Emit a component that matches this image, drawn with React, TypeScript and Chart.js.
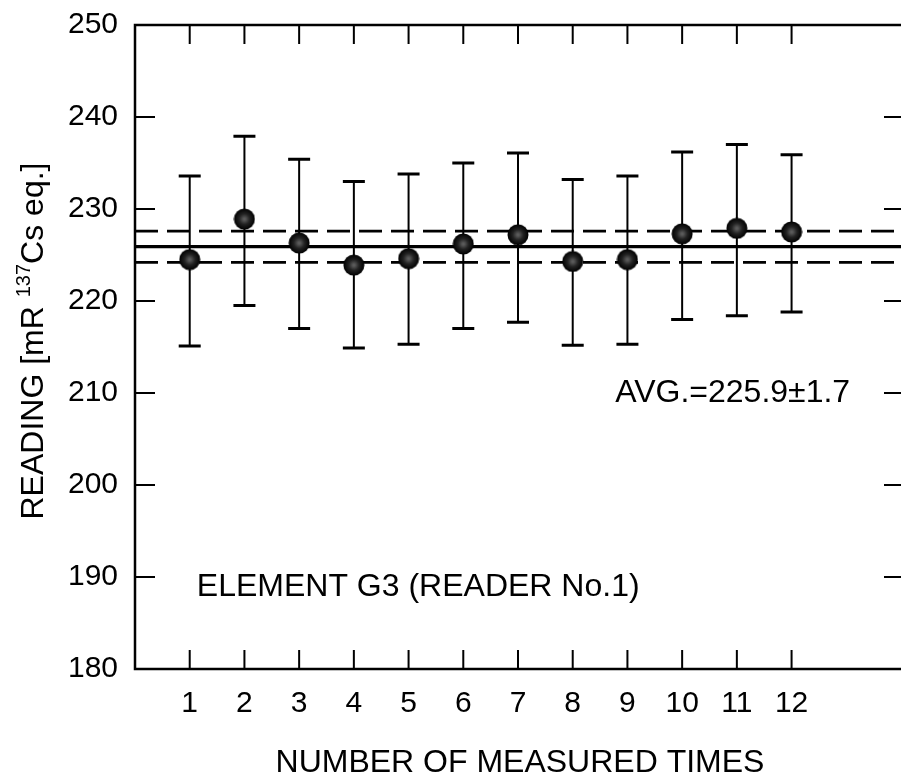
import React, { useEffect, useRef } from "react";
import { Chart, registerables } from "chart.js";

Chart.register(...registerables);

const runs = [1, 2, 3, 4, 5, 6, 7, 8, 9, 10, 11, 12];
const readings = [224.5, 228.9, 226.3, 223.9, 224.6, 226.2, 227.2, 224.3, 224.5, 227.3, 227.9, 227.5];
const upperErr = [233.6, 237.9, 235.4, 233.0, 233.8, 235.0, 236.1, 233.2, 233.6, 236.2, 237.0, 235.9];
const lowerErr = [215.1, 219.5, 217.0, 214.9, 215.3, 217.0, 217.7, 215.2, 215.3, 218.0, 218.4, 218.8];
const avgValue = 225.9;
const avgSd = 1.7;
const xTicks = [1, 2, 3, 4, 5, 6, 7, 8, 9, 10, 11, 12];
const yTickLabels = [180, 190, 200, 210, 220, 230, 240, 250];
const xRange = [0, 14];
const yRange = [180, 250];
const avgLabel = "AVG.=225.9±1.7";
const elementLabel = "ELEMENT G3 (READER No.1)";
const xTitle = "NUMBER OF MEASURED TIMES";
const yTitleParts = ["READING [mR ", "137", "Cs eq.]"];

const FONT = '"Liberation Sans", Arial, Helvetica, sans-serif';

const framePlugin = {
  id: "frame",
  beforeDatasetsDraw(chart: any) {
    const ctx = chart.ctx;
    const xs = chart.scales.x;
    const ys = chart.scales.y;
    ctx.save();
    ctx.strokeStyle = "#000";
    // error bars
    for (let i = 0; i < runs.length; i++) {
      const px = xs.getPixelForValue(runs[i]);
      const pt = ys.getPixelForValue(upperErr[i]);
      const pb = ys.getPixelForValue(lowerErr[i]);
      ctx.lineWidth = 2;
      ctx.beginPath();
      ctx.moveTo(px, pt);
      ctx.lineTo(px, pb);
      ctx.stroke();
      ctx.lineWidth = 3;
      ctx.beginPath();
      ctx.moveTo(px - 11, pt);
      ctx.lineTo(px + 11, pt);
      ctx.moveTo(px - 11, pb);
      ctx.lineTo(px + 11, pb);
      ctx.stroke();
    }
    ctx.restore();
  },
  afterDraw(chart: any) {
    const ctx = chart.ctx;
    const xs = chart.scales.x;
    const ys = chart.scales.y;
    const a = chart.chartArea;
    ctx.save();
    ctx.strokeStyle = "#000";
    ctx.fillStyle = "#000";
    // frame (left, top, bottom)
    ctx.lineWidth = 2.5;
    ctx.beginPath();
    ctx.moveTo(a.right + 2, a.top);
    ctx.lineTo(a.left, a.top);
    ctx.lineTo(a.left, a.bottom);
    ctx.lineTo(a.right + 2, a.bottom);
    ctx.stroke();
    // x ticks
    ctx.lineWidth = 2;
    ctx.beginPath();
    for (const t of xTicks) {
      const px = xs.getPixelForValue(t);
      ctx.moveTo(px, a.bottom);
      ctx.lineTo(px, a.bottom - 19);
      ctx.moveTo(px, a.top);
      ctx.lineTo(px, a.top + 19);
    }
    // y ticks
    for (const t of yTickLabels) {
      if (t === yRange[0] || t === yRange[1]) continue;
      const py = ys.getPixelForValue(t);
      ctx.moveTo(a.left, py);
      ctx.lineTo(a.left + 20, py);
      ctx.moveTo(a.right, py);
      ctx.lineTo(a.right - 17, py);
    }
    ctx.stroke();
    // tick labels
    ctx.font = `30px ${FONT}`;
    ctx.textAlign = "right";
    ctx.textBaseline = "middle";
    for (const t of yTickLabels) {
      ctx.fillText(String(t), 118, ys.getPixelForValue(t));
    }
    ctx.textAlign = "center";
    for (const t of xTicks) {
      ctx.fillText(String(t), xs.getPixelForValue(t), a.bottom + 35);
    }
    // titles
    ctx.font = `32px ${FONT}`;
    ctx.fillText(xTitle, 520, 763);
    // annotations
    ctx.textAlign = "right";
    ctx.fillText(avgLabel, xs.getPixelForValue(13.07), ys.getPixelForValue(210));
    ctx.textAlign = "left";
    ctx.fillText(elementLabel, xs.getPixelForValue(1.13), ys.getPixelForValue(188.9));
    // y title rotated with superscript
    ctx.translate(34, 341);
    ctx.rotate(-Math.PI / 2);
    const bigFont = `32px ${FONT}`;
    const smallFont = `20px ${FONT}`;
    ctx.font = bigFont;
    const w1 = ctx.measureText(yTitleParts[0]).width;
    const w3 = ctx.measureText(yTitleParts[2]).width;
    ctx.font = smallFont;
    const w2 = ctx.measureText(yTitleParts[1]).width;
    const total = w1 + w2 + w3;
    let cx = -total / 2;
    ctx.textAlign = "left";
    ctx.font = bigFont;
    ctx.fillText(yTitleParts[0], cx, 0);
    cx += w1;
    ctx.font = smallFont;
    ctx.fillText(yTitleParts[1], cx, -10);
    cx += w2;
    ctx.font = bigFont;
    ctx.fillText(yTitleParts[2], cx, 0);
    ctx.restore();
  },
};

function makeMarker(): HTMLCanvasElement {
  const c = document.createElement("canvas");
  c.width = 22;
  c.height = 22;
  const g = c.getContext("2d")!;
  const grad = g.createRadialGradient(11, 11, 1, 11, 11, 10.5);
  grad.addColorStop(0, "#5a5a5a");
  grad.addColorStop(0.45, "#222");
  grad.addColorStop(1, "#000");
  g.fillStyle = grad;
  g.beginPath();
  g.arc(11, 11, 10.5, 0, Math.PI * 2);
  g.fill();
  return c;
}

export default function App() {
  const ref = useRef<HTMLCanvasElement | null>(null);
  useEffect(() => {
    if (!ref.current) return;
    const marker = makeMarker();
    const hline = (v: number) => [
      { x: xRange[0], y: v },
      { x: xRange[1], y: v },
    ];
    const chart = new Chart(ref.current, {
      type: "scatter",
      data: {
        datasets: [
          {
            label: "Reading",
            data: runs.map((r, i) => ({ x: r, y: readings[i] })),
            pointStyle: marker as any,
            pointRadius: 11,
            order: 0,
          },
          {
            label: "Average",
            data: hline(avgValue),
            showLine: true,
            borderColor: "#000",
            borderWidth: 3.2,
            pointRadius: 0,
            order: 1,
          },
          {
            label: "Avg + SD",
            data: hline(avgValue + avgSd),
            showLine: true,
            borderColor: "#000",
            borderWidth: 2.6,
            borderDash: [23, 9],
            pointRadius: 0,
            order: 2,
          },
          {
            label: "Avg - SD",
            data: hline(avgValue - avgSd),
            showLine: true,
            borderColor: "#000",
            borderWidth: 2.6,
            borderDash: [23, 9],
            pointRadius: 0,
            order: 3,
          },
        ],
      },
      options: {
        animation: false,
        responsive: false,
        maintainAspectRatio: false,
        layout: { autoPadding: false, padding: { left: 135, top: 25, right: 0, bottom: 112 } },
        plugins: { legend: { display: false }, tooltip: { enabled: false } },
        scales: {
          x: { type: "linear", min: xRange[0], max: xRange[1], display: false },
          y: { type: "linear", min: yRange[0], max: yRange[1], display: false },
        },
      },
      plugins: [framePlugin],
    });
    return () => chart.destroy();
  }, []);
  return (
    <div style={{ position: "absolute", left: 0, top: 0, width: 901, height: 781, background: "#fff" }}>
      <canvas ref={ref} width={901} height={781} style={{ display: "block" }} />
    </div>
  );
}
